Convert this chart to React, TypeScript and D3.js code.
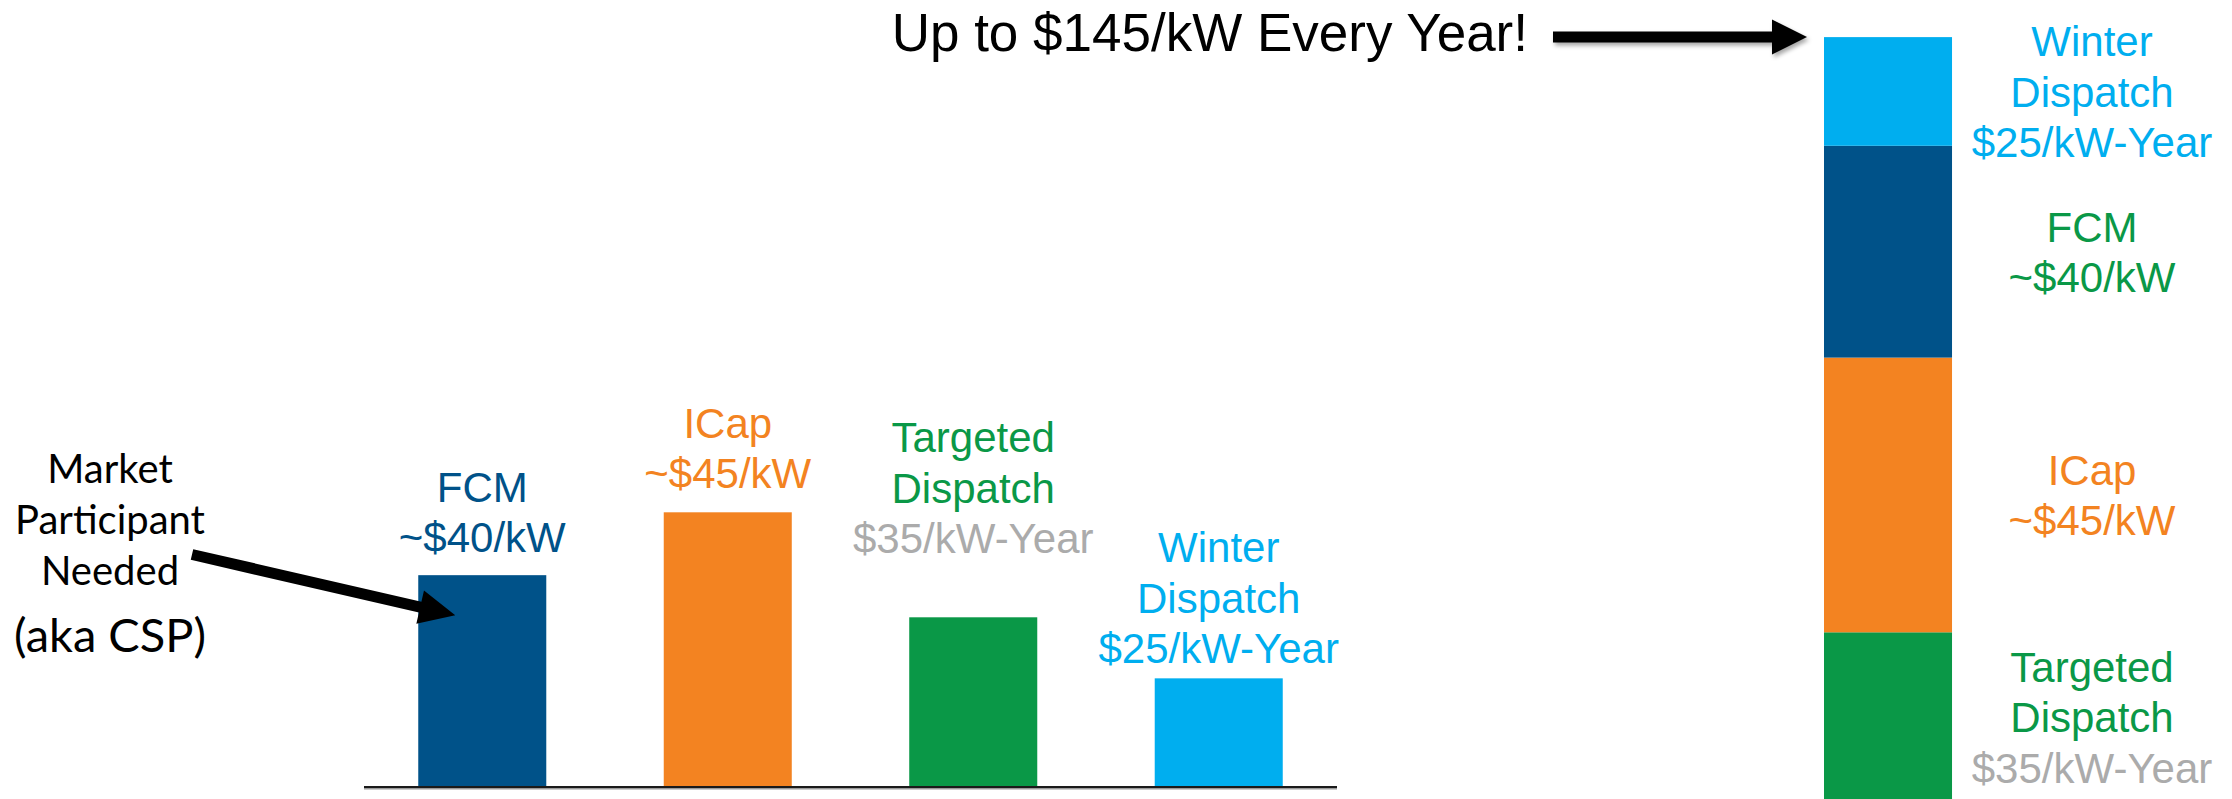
import React from 'react';
import * as d3 from 'd3';

// ---- data ----
const categories = ['FCM', 'ICap', 'Targeted Dispatch', 'Winter Dispatch'];
// bar heights, in units where the ICap bar = 45
const barValues = [34.7, 45, 27.8, 17.8];
const nameLines = [['FCM'], ['ICap'], ['Targeted', 'Dispatch'], ['Winter', 'Dispatch']];
const priceLabels = ['~$40/kW', '~$45/kW', '$35/kW-Year', '$25/kW-Year'];
// right-hand stacked column, bottom to top
const stackOrder = ['Targeted Dispatch', 'ICap', 'FCM', 'Winter Dispatch'];
const headline = 'Up to $145/kW Every Year!';
const noteLines = ['Market', 'Participant', 'Needed'];
const noteAside = '(aka CSP)';

// ---- styles ----
const W = 2232;
const H = 799;
const ARIAL = '"Liberation Sans", Arial, sans-serif';
const NOTE_FONT = 'Lato, "Open Sans", sans-serif';
const barColor: Record<string, string> = {
  FCM: '#005289',
  ICap: '#F38321',
  'Targeted Dispatch': '#0A9847',
  'Winter Dispatch': '#00AEEF',
};
const GREY = '#ABABAB';
// left labels: name colour / price colour
const leftNameColor = ['#005289', '#F38321', '#0A9847', '#00AEEF'];
const leftPriceColor = ['#005289', '#F38321', GREY, '#00AEEF'];
// right labels (the FCM one is green in the original)
const rightNameColor: Record<string, string> = {
  FCM: '#0A9847',
  ICap: '#F38321',
  'Targeted Dispatch': '#0A9847',
  'Winter Dispatch': '#00AEEF',
};
const rightPriceColor: Record<string, string> = {
  FCM: '#0A9847',
  ICap: '#F38321',
  'Targeted Dispatch': GREY,
  'Winter Dispatch': '#00AEEF',
};
// how far the last label line sits above each left bar
const labelLift = [23, 24, 64, 15];

const LABEL_SIZE = 42;
const LINE = 50.5;

function arrowPoints(x0: number, y0: number, x1: number, y1: number, w: number, hl: number, hw: number) {
  const len = Math.hypot(x1 - x0, y1 - y0);
  const ux = (x1 - x0) / len;
  const uy = (y1 - y0) / len;
  const nx = -uy;
  const ny = ux;
  const bx = x1 - ux * hl;
  const by = y1 - uy * hl;
  const pts = [
    [x0 + nx * w / 2, y0 + ny * w / 2],
    [bx + nx * w / 2, by + ny * w / 2],
    [bx + nx * hw / 2, by + ny * hw / 2],
    [x1, y1],
    [bx - nx * hw / 2, by - ny * hw / 2],
    [bx - nx * w / 2, by - ny * w / 2],
    [x0 - nx * w / 2, y0 - ny * w / 2],
  ];
  return pts.map(p => p.join(',')).join(' ');
}

const App = () => {
  // left chart
  const axisLeft = 364;
  const axisRight = 1337;
  const baseY = 787;
  const x = d3.scaleBand<string>()
    .domain(categories)
    .range([axisLeft, axisRight])
    .paddingInner(0.4785)
    .paddingOuter(0.221);
  // value -> pixel height (shared by both charts)
  const h = d3.scaleLinear().domain([0, 45]).range([0, 274.7]);
  const y = (v: number) => baseY - h(v);

  // right stacked column
  const stackX = 1824;
  const stackBase = 802;
  const valueOf = (c: string) => barValues[categories.indexOf(c)];
  const ends = d3.cumsum(stackOrder.map(valueOf));
  const segs = stackOrder.map((c, i) => ({
    key: c,
    y0: stackBase - h(i === 0 ? 0 : ends[i - 1]),
    y1: stackBase - h(ends[i]),
  }));
  const stackTop = segs[segs.length - 1].y1;
  const rightLabelX = stackX + x.bandwidth() + 140;

  // headline arrow
  const arrowTipX = stackX - 17;
  const arrowStartX = 1553;

  // note arrow into the FCM bar
  const fcmX = x('FCM') as number;
  const noteX = 110;
  const tipX = fcmX + 37;
  const tipY = y(valueOf('FCM')) + 40;

  return (
    <svg width={W} height={H} style={{ position: 'absolute', left: 0, top: 0, background: '#fff' }}>
      <defs>
        <filter id="shadow" x="-10%" y="-50%" width="120%" height="200%">
          <feDropShadow dx="2" dy="3" stdDeviation="2" floodColor="#000" floodOpacity="0.35" />
        </filter>
      </defs>

      {/* left bars */}
      {categories.map((c, i) => (
        <rect key={c} x={x(c)} y={y(barValues[i])} width={x.bandwidth()} height={h(barValues[i])} fill={barColor[c]} />
      ))}
      <line x1={axisLeft} x2={axisRight} y1={baseY + 1} y2={baseY + 1} stroke="#999" strokeWidth={3} />
      <line x1={axisLeft} x2={axisRight} y1={baseY} y2={baseY} stroke="#1a1a1a" strokeWidth={2} />

      {/* left labels */}
      {categories.map((c, i) => {
        const cx = (x(c) as number) + x.bandwidth() / 2;
        const lines = [...nameLines[i], priceLabels[i]];
        const last = y(barValues[i]) - labelLift[i];
        return (
          <text key={c} x={cx} textAnchor="middle" fontFamily={ARIAL} fontSize={LABEL_SIZE}>
            {lines.map((t, j) => (
              <tspan key={j} x={cx} y={last - (lines.length - 1 - j) * LINE}
                fill={j === lines.length - 1 ? leftPriceColor[i] : leftNameColor[i]}>{t}</tspan>
            ))}
          </text>
        );
      })}

      {/* stacked column */}
      {segs.map(s => (
        <rect key={s.key} x={stackX} y={s.y1} width={x.bandwidth()} height={s.y0 - s.y1} fill={barColor[s.key]} />
      ))}
      {segs.map(s => {
        const i = categories.indexOf(s.key);
        const lines = [...nameLines[i], priceLabels[i]];
        const mid = (s.y0 + s.y1) / 2;
        const first = mid - ((lines.length - 1) * LINE) / 2 + 0.36 * LABEL_SIZE;
        return (
          <text key={s.key} x={rightLabelX} textAnchor="middle" fontFamily={ARIAL} fontSize={LABEL_SIZE}>
            {lines.map((t, j) => (
              <tspan key={j} x={rightLabelX} y={first + j * LINE}
                fill={j === lines.length - 1 ? rightPriceColor[s.key] : rightNameColor[s.key]}>{t}</tspan>
            ))}
          </text>
        );
      })}

      {/* headline + arrow */}
      <text x={arrowStartX - 25} y={51} textAnchor="end" fontFamily={ARIAL} fontSize={53} fill="#000">{headline}</text>
      <polygon points={arrowPoints(arrowStartX, stackTop, arrowTipX, stackTop, 11, 35, 35)} fill="#000" filter="url(#shadow)" />

      {/* side note */}
      <text x={noteX} textAnchor="middle" fontFamily={NOTE_FONT} fontSize={40} fill="#000">
        {noteLines.map((t, j) => (
          <tspan key={j} x={noteX} y={483 + j * 51}>{t}</tspan>
        ))}
      </text>
      <text x={noteX} y={652} textAnchor="middle" fontFamily={NOTE_FONT} fontSize={47} fill="#000">{noteAside}</text>
      <polygon points={arrowPoints(192, 554.5, tipX, tipY, 11, 36, 34)} fill="#000" />
    </svg>
  );
};

export default App;
